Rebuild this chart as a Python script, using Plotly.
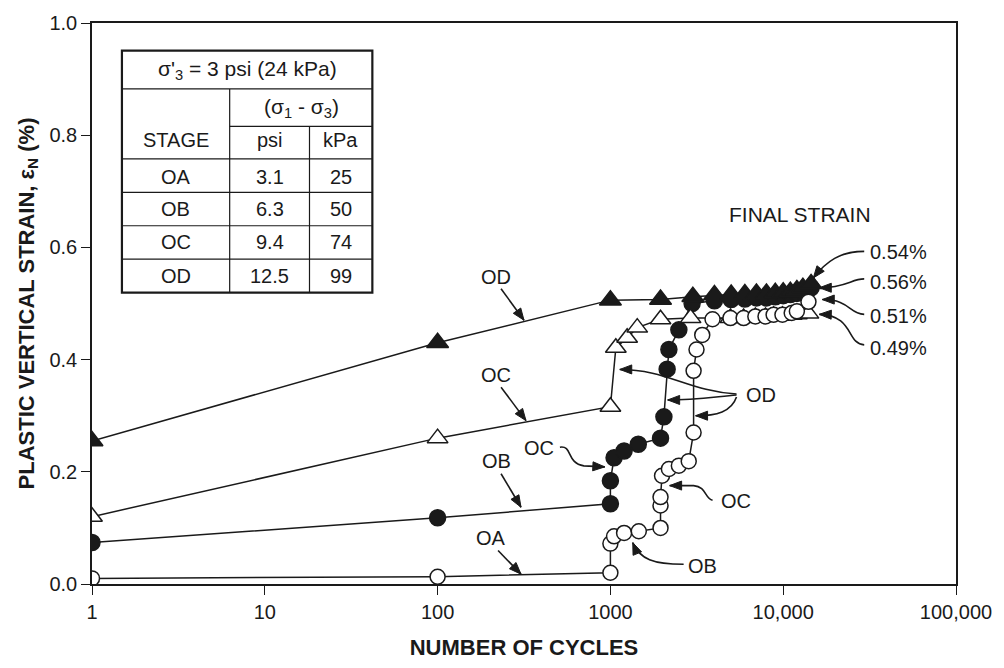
import math
import plotly.graph_objects as go

# ---------------- data ----------------
# open circles: test started at stage OA, then OB, OC, OD
oc_cycles = [1, 100, 1000, 1000, 1050, 1200, 1460, 1950, 1950, 1950, 1990, 2180, 2490, 2840,
             3030, 3030, 3150, 3400, 3900, 4950, 5900, 6900, 7900, 8800, 9900, 11200, 12000, 14000]
oc_strain = [0.010, 0.013, 0.020, 0.072, 0.085, 0.091, 0.094, 0.100, 0.140, 0.155, 0.193, 0.205,
             0.211, 0.219, 0.270, 0.380, 0.418, 0.444, 0.472, 0.474, 0.474, 0.477, 0.477, 0.480,
             0.480, 0.483, 0.486, 0.503]

# filled circles: test started at stage OB, then OC, OD
fc_cycles = [1, 100, 1000, 1000, 1050, 1200, 1450, 1950, 2040, 2130, 2180, 2490, 2970,
             4000, 5000, 6000, 7000, 8000, 9000, 10000, 11000, 12000, 13000, 14500]
fc_strain = [0.074, 0.118, 0.143, 0.184, 0.225, 0.237, 0.249, 0.260, 0.298, 0.383, 0.418,
             0.453, 0.500, 0.505, 0.507, 0.508, 0.510, 0.510, 0.512, 0.514, 0.516, 0.518,
             0.520, 0.528]

# open triangles: test started at stage OC, then OD
ot_cycles = [1, 100, 1000, 1075, 1250, 1430, 1950, 2910, 4950, 5900, 6900, 7900, 8800, 9900,
             11200, 12000, 14000]
ot_strain = [0.120, 0.260, 0.316, 0.421, 0.439, 0.457, 0.472, 0.474, 0.474, 0.474, 0.476, 0.476,
             0.478, 0.478, 0.480, 0.481, 0.482]

# filled triangles: test at stage OD
ft_cycles = [1, 100, 1000, 1950, 3000, 4000, 5000, 6000, 7000, 8000, 9000, 10000, 11000, 12000,
             13000, 14500]
ft_strain = [0.255, 0.430, 0.506, 0.507, 0.512, 0.515, 0.516, 0.517, 0.518, 0.518, 0.519, 0.520,
             0.521, 0.524, 0.528, 0.535]

x_tick_vals = [1, 10, 100, 1000, 10000, 100000]
x_tick_text = ["1", "10", "100", "1000", "10,000", "100,000"]
y_tick_vals = [0.0, 0.2, 0.4, 0.6, 0.8, 1.0]
y_tick_text = ["0.0", "0.2", "0.4", "0.6", "0.8", "1.0"]

final_labels = ["0.54%", "0.56%", "0.51%", "0.49%"]

table_title = "σ'<sub>3</sub> = 3 psi (24 kPa)"
table_stages = ["OA", "OB", "OC", "OD"]
table_psi = ["3.1", "6.3", "9.4", "12.5"]
table_kpa = ["25", "50", "74", "99"]

# ---------------- layout geometry ----------------
W, H = 1004, 668
L, R, T, B = 92, 958, 20, 590
INK = "#1a1a1a"
FONT = "Liberation Sans, Arial, Helvetica, sans-serif"


def pp(x, y):
    """pixel position -> paper fraction"""
    return (x - L) / (R - L), (B - y) / (B - T)


fig = go.Figure()


def add_series(x, y, symbol, fill, size, name):
    fig.add_trace(go.Scatter(
        x=x, y=y, mode="lines+markers", name=name,
        line=dict(color=INK, width=1.5),
        marker=dict(symbol=symbol, size=size, color=fill, line=dict(color=INK, width=1.5)),
    ))


add_series(fc_cycles, fc_strain, "circle", INK, 16, "filled circles")
add_series(ft_cycles, ft_strain, "triangle-up", INK, 19, "filled triangles")
add_series(ot_cycles, ot_strain, "triangle-up", "white", 18, "open triangles")
add_series(oc_cycles, oc_strain, "circle", "white", 15, "open circles")

shapes = []
annotations = []


def fmt(p):
    x, y = pp(*p)
    return f"{x:.5f},{y:.5f}"


def arrow(cmds):
    """cmds: list of (op, points...) in pixels; draws path and arrowhead at the end"""
    parts = []
    prev = None
    last = None
    for c in cmds:
        op, pts = c[0], c[1:]
        parts.append(op + " " + " ".join(fmt(p) for p in pts))
        if len(pts) >= 2:
            prev = pts[-2]
        else:
            prev = last
        last = pts[-1]
    shapes.append(dict(type="path", path=" ".join(parts), xref="paper", yref="paper",
                       line=dict(color=INK, width=1.6)))
    tx, ty = last
    fx, fy = prev
    dx, dy = tx - fx, ty - fy
    d = math.hypot(dx, dy)
    ux, uy = dx / d, dy / d
    ln, hw = 12, 4.6
    bx, by = tx - ux * ln, ty - uy * ln
    nx, ny = -uy, ux
    p1 = (bx + nx * hw, by + ny * hw)
    p2 = (bx - nx * hw, by - ny * hw)
    shapes.append(dict(type="path", path=f"M {fmt(last)} L {fmt(p1)} L {fmt(p2)} Z",
                       xref="paper", yref="paper", fillcolor=INK, line=dict(color=INK, width=1)))


def text(s, x, y, size=20, anchor="center"):
    px_, py_ = pp(x, y)
    annotations.append(dict(text=s, x=px_, y=py_, xref="paper", yref="paper", showarrow=False,
                            xanchor=anchor, yanchor="middle", font=dict(size=size, color=INK, family=FONT)))


# stage labels with arrows
text("OD", 497, 278)
arrow([("M", (502, 290)), ("L", (525, 322))])
text("OC", 497, 378)
arrow([("M", (502, 390)), ("L", (527, 424))])
text("OB", 497, 465)
arrow([("M", (502, 478)), ("L", (522, 512))])
text("OA", 492, 543)
arrow([("M", (499, 556)), ("L", (522, 580))])

text("OC", 540, 452)
arrow([("M", (561, 451)), ("C", (574, 449), (567, 467), (585, 470)), ("L", (606, 471))])

text("OD", 763, 398)
arrow([("M", (738, 398)), ("C", (715, 400), (695, 403), (669, 403))])
arrow([("M", (738, 400)), ("C", (733, 415), (718, 419), (697, 419))])
arrow([("M", (738, 397)), ("C", (690, 394), (668, 372), (621, 372))])

text("OC", 737, 506)
arrow([("M", (714, 505)), ("C", (706, 503), (708, 491), (695, 490)), ("L", (671, 490))])

text("OB", 704, 572)
arrow([("M", (685, 570)), ("C", (655, 570), (641, 565), (634, 548))])

# final strain labels
text("FINAL STRAIN", 802, 215, size=21)
label_y = [253, 283, 318, 350]
for s, yy in zip(final_labels, label_y):
    text(s, 870, yy, anchor="left")
arrow([("M", (866, 252)), ("C", (842, 252), (828, 262), (815, 279))])
arrow([("M", (866, 280)), ("C", (853, 280), (848, 289), (821, 289))])
arrow([("M", (866, 316)), ("C", (850, 315), (852, 301), (824, 301))])
arrow([("M", (866, 347)), ("C", (848, 346), (856, 317), (821, 316))])

# ---------------- table ----------------
tl, tr, tt, tb = 122, 373, 48, 294
c1, c2 = 230, 310
h1, h2, h3 = 87, 125, 158
row_lines = [192, 226, 260]


def seg(x0, y0, x1, y1, w=1.2):
    a, b = pp(x0, y0)
    c, d = pp(x1, y1)
    shapes.append(dict(type="line", x0=a, y0=b, x1=c, y1=d, xref="paper", yref="paper",
                       line=dict(color=INK, width=w)))


a, b = pp(tl, tb)
c, d = pp(tr, tt)
shapes.append(dict(type="rect", x0=a, y0=b, x1=c, y1=d, xref="paper", yref="paper",
                   fillcolor="white", line=dict(color=INK, width=2.2), layer="below"))
seg(tl, h1, tr, h1)
seg(c1, h2, tr, h2)
seg(tl, h3, tr, h3)
for yy in row_lines:
    seg(tl, yy, tr, yy)
seg(c1, h1, c1, tb)
seg(c2, h2, c2, tb)

text(table_title, (tl + tr) / 2, 68, size=21)
text("(σ<sub>1</sub> - σ<sub>3</sub>)", (c1 + tr) / 2, 106, size=21)
text("STAGE", (tl + c1) / 2, 139)
text("psi", (c1 + c2) / 2, 139)
text("kPa", (c2 + tr) / 2, 139)
row_centers = [176, 209, 243, 277]
for st, ps, kp, yy in zip(table_stages, table_psi, table_kpa, row_centers):
    text(st, (tl + c1) / 2, yy)
    text(ps, (c1 + c2) / 2, yy)
    text(kp, (c2 + tr) / 2, yy)

fig.update_layout(
    width=W, height=H,
    margin=dict(l=L, r=W - R, t=T, b=H - B, pad=0),
    paper_bgcolor="white", plot_bgcolor="white",
    showlegend=False,
    font=dict(family=FONT, size=20, color=INK),
    shapes=shapes, annotations=annotations,
)
fig.update_xaxes(
    type="log", range=[0, 5], tickvals=x_tick_vals, ticktext=x_tick_text,
    ticks="outside", ticklen=9, tickwidth=1.2, tickcolor=INK,
    showline=True, linecolor=INK, linewidth=1.5, mirror=True,
    showgrid=False, zeroline=False,
    tickfont=dict(size=20, color=INK, family=FONT),
    title=dict(text="<b>NUMBER OF CYCLES</b>", standoff=18, font=dict(size=22, color=INK, family=FONT)),
)
fig.update_yaxes(
    range=[0, 1], tickvals=y_tick_vals, ticktext=y_tick_text,
    ticks="outside", ticklen=9, tickwidth=1.2, tickcolor=INK,
    showline=True, linecolor=INK, linewidth=1.5, mirror=True,
    showgrid=False, zeroline=False,
    tickfont=dict(size=20, color=INK, family=FONT),
    title=dict(text="<b>PLASTIC VERTICAL STRAIN, ε<sub>N</sub> (%)</b>", standoff=9,
               font=dict(size=22, color=INK, family=FONT)),
)

fig.write_html("out.html", config={"displayModeBar": False},
               post_script="document.body.style.margin='0';")
